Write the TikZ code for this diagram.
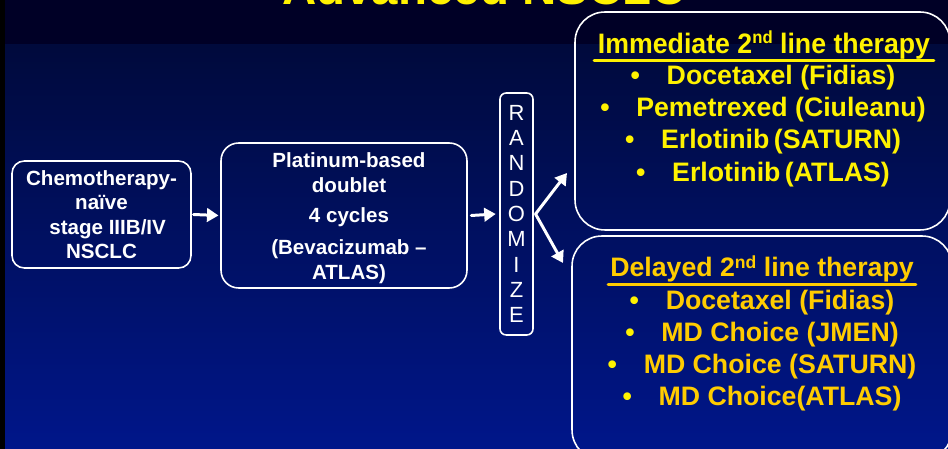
\documentclass[tikz,border=0pt]{standalone}
\usepackage{fontspec}
\setmainfont{Liberation Sans}
\usetikzlibrary{arrows.meta}
\definecolor{bandtop}{RGB}{0,0,38}
\definecolor{bgup}{RGB}{0,10,60}
\definecolor{bgdown}{RGB}{0,22,138}
\definecolor{gold}{RGB}{255,204,0}
\newcommand{\ndsup}{\raisebox{0.62ex}{\fontsize{10}{10}\selectfont nd}}

\begin{document}
\begin{tikzpicture}[x=0.02cm,y=-0.02cm,>={Triangle[length=2.3mm,width=2.7mm]},line cap=round,
  whitebox/.style={draw=white,line width=0.9pt,align=center,text=white,inner sep=0pt,
    font=\fontsize{11.7}{13.6}\selectfont\bfseries},
  boxtext/.style={align=center,text=white,inner sep=0pt,font=\fontsize{11.7}{14.2}\selectfont\bfseries},
  armbox/.style={draw=white,line width=0.9pt,rounded corners=17pt,inner sep=0pt},
  armhead/.style={font=\fontsize{16}{18}\selectfont\bfseries,inner sep=1pt},
  armlist/.style={font=\fontsize{15.2}{18.3}\selectfont\bfseries,align=center,inner sep=0pt},
  flow/.style={->,white,line width=1.7pt}]
\useasboundingbox (0,0) rectangle (948,449);
\begin{scope}
\clip (0,0) rectangle (948,449);
\fill[black] (0,0) rectangle (948,449);
\fill[bandtop] (5,0) rectangle (948,45);
\shade[top color=bgup,bottom color=bgdown] (5,45) rectangle (948,449);
\node[anchor=base,text=yellow,font=\fontsize{27}{30}\selectfont\bfseries] (title) at (484,5) {Advanced NSCLC};

\node[whitebox,rounded corners=7pt,minimum width=3.58cm,minimum height=2.14cm] (chemo) at (101.5,214.5)
  {Chemotherapy-\\naïve\\[1pt]\hspace*{7pt}stage IIIB/IV\\NSCLC};
\node[whitebox,rounded corners=10pt,minimum width=4.92cm,minimum height=2.9cm] (doublet) at (344,215.5) {};
\node[boxtext] (doublettext) at (349,218.5)
  {Platinum-based\\doublet\\[3pt]4 cycles\\[4pt](Bevacizumab --\\ATLAS)};
\node[whitebox,rounded corners=3.5pt,minimum width=0.66cm,minimum height=4.84cm,
  font=\fontsize{12.5}{14.4}\selectfont] (rand) at (516.5,214)
  {R\\A\\N\\D\\O\\M\\I\\Z\\E};

\node[armbox,minimum width=7.5cm,minimum height=4.36cm] (immed) at (762.5,121) {};
\node[armbox,minimum width=7.6cm,minimum height=4.48cm] (delay) at (762,348) {};

\node[armhead,text=yellow,xscale=0.95] (immedhead) at (764,45) {Immediate 2\ndsup\ line therapy};
\draw[yellow,line width=1.7pt] ([xshift=-1pt]immedhead.south west) -- ([xshift=1pt]immedhead.south east);
\node[armlist,text=yellow] (immedlist) at (763,126)
  {\textbullet\quad Docetaxel (Fidias)\\
   \textbullet\quad Pemetrexed (Ciuleanu)\\
   \textbullet\quad Erlotinib\,(SATURN)\\
   \textbullet\quad Erlotinib\,(ATLAS)};

\node[armhead,text=gold,font=\fontsize{15.2}{18}\selectfont\bfseries] (delayhead) at (762,269) {Delayed 2\ndsup\ line therapy};
\draw[gold,line width=1.7pt] (delayhead.south west) -- (delayhead.south east);
\node[armlist,text=gold] (delaylist) at (762,350.5)
  {\textcolor{yellow}{\textbullet}\quad Docetaxel (Fidias)\\
   \textcolor{yellow}{\textbullet}\quad MD Choice (JMEN)\\
   \textcolor{yellow}{\textbullet}\quad MD Choice (SATURN)\\
   \textcolor{yellow}{\textbullet}\quad MD Choice(ATLAS)};

\coordinate (upend) at (567,173);
\coordinate (downend) at (563,263);
\draw[flow] ([xshift=1pt]chemo.east) -- ([xshift=-1pt]doublet.west);
\draw[flow] ([xshift=2pt]doublet.east) -- ([xshift=-2pt]rand.west);
\draw[flow] ([xshift=1pt]rand.east) -- (upend);
\draw[flow] ([xshift=1pt]rand.east) -- (downend);
\end{scope}
\end{tikzpicture}
\end{document}
